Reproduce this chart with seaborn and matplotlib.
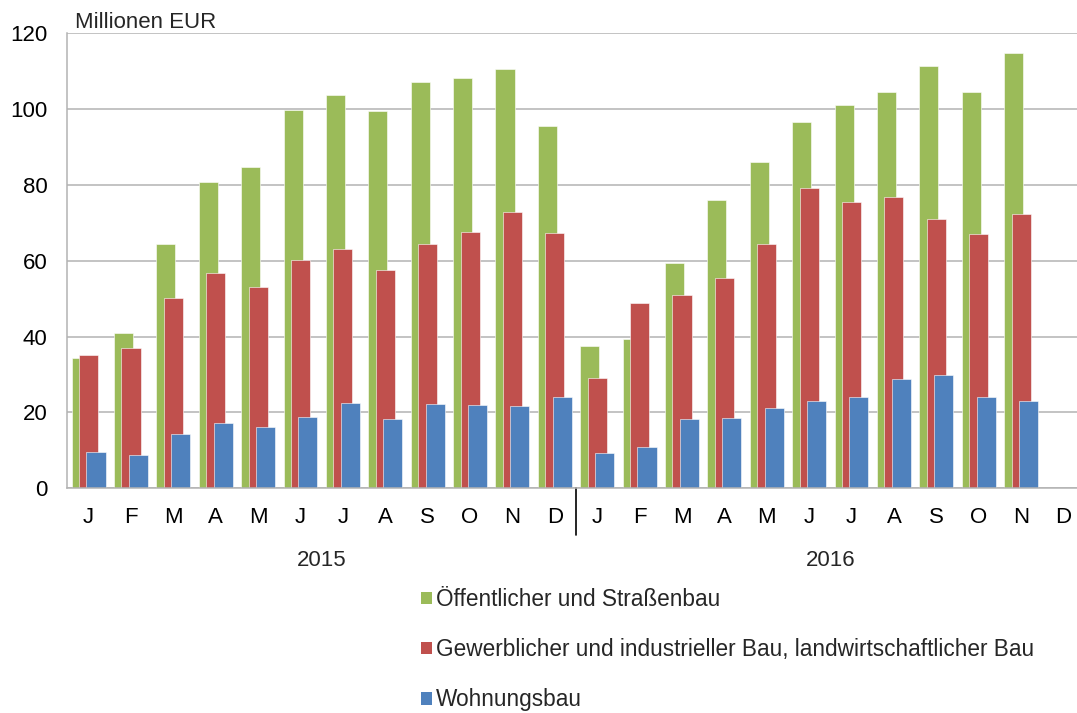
import numpy as np
import pandas as pd
import seaborn as sns
import matplotlib.pyplot as plt
from matplotlib.patches import Patch
import matplotlib.transforms as mtransforms

months = ["J", "F", "M", "A", "M", "J", "J", "A", "S", "O", "N", "D"] * 2
years = ["2015", "2016"]
series_names = ["Öffentlicher und Straßenbau",
                "Gewerblicher und industrieller Bau, landwirtschaftlicher Bau",
                "Wohnungsbau"]
oeffentlich = [34.3, 41.0, 64.4, 80.8, 84.8, 99.8, 103.8, 99.6, 107.1, 108.2, 110.7, 95.5,
               37.6, 39.4, 59.4, 76.0, 86.1, 96.5, 101.0, 104.5, 111.5, 104.6, 114.7, np.nan]
gewerblich = [35.2, 36.9, 50.2, 56.8, 53.2, 60.1, 63.1, 57.7, 64.4, 67.6, 73.0, 67.4,
              29.1, 48.9, 50.9, 55.4, 64.3, 79.3, 75.5, 76.8, 71.0, 67.1, 72.3, np.nan]
wohnung = [9.5, 8.9, 14.3, 17.2, 16.1, 18.8, 22.6, 18.3, 22.3, 22.0, 21.8, 24.1,
           9.4, 10.8, 18.4, 18.5, 21.1, 23.0, 24.2, 28.7, 29.8, 24.0, 23.0, np.nan]
colors = ["#9BBB59", "#C0504D", "#4F81BD"]

sns.set_theme(style="white")
plt.rcParams['font.family'] = ['Liberation Sans', 'DejaVu Sans']
FS = 16

W, H = 1077, 713
fig = plt.figure(figsize=(W / 100, H / 100), dpi=100)
ax_left, ax_right = 67.4, 1077
ax_bottom, ax_top = 488.3, 33.3
ax = fig.add_axes([ax_left / W, (H - ax_bottom) / H, (ax_right - ax_left) / W, (ax_bottom - ax_top) / H])

idx = np.arange(len(months))
offsets = [-0.175, 0.0, 0.175]
for vals, off, col in zip([oeffentlich, gewerblich, wohnung], offsets, colors):
    df = pd.DataFrame({"pos": idx + off, "val": vals}).dropna()
    sns.barplot(data=df, x="pos", y="val", native_scale=True, width=0.45,
                color=col, saturation=1, errorbar=None, ax=ax,
                edgecolor="#ffffff", linewidth=0.4)

ax.set_ylim(0, 120)
ax.set_yticks(np.arange(0, 121, 20))
ax.set_xlim(-0.5, 23.32)
ax.set_xticks(idx)
ax.set_xticklabels(months)
ax.set_xlabel("")
ax.set_ylabel("")
ax.tick_params(axis="both", length=0, labelsize=FS, colors="black")
ax.tick_params(axis="x", pad=13.5)
ax.tick_params(axis="y", pad=14.5)
ax.yaxis.grid(True, color="#B3B3B3", linewidth=1.1)
ax.set_axisbelow(True)
for s in ["top", "right"]:
    ax.spines[s].set_visible(False)
for s in ["left", "bottom"]:
    ax.spines[s].set_color("#B3B3B3")
    ax.spines[s].set_linewidth(1.1)

trans = mtransforms.blended_transform_factory(ax.transData, ax.transAxes)
ax.plot([11.5, 11.5], [0, -(535 - 488.3) / (ax_bottom - ax_top)], color="black",
        linewidth=1.2, transform=trans, clip_on=False)
year_y = -(560 - 488.3) / (ax_bottom - ax_top)
for i, yr in enumerate(years):
    ax.text(5.5 + 12 * i, year_y, yr, transform=trans, ha="center", va="center", fontsize=FS)

fig.text(75 / W, 1 - 28.5 / H, "Millionen EUR", ha="left", va="baseline", fontsize=FS)

handles = [Patch(facecolor=c, edgecolor="none") for c in colors]
fig.legend(handles, series_names, loc="upper left", bbox_to_anchor=(421 / W, 1 - 588 / H),
           frameon=False, fontsize=16.3, handlelength=0.47, handleheight=0.47,
           handletextpad=0.21, labelspacing=1.2, borderaxespad=0, borderpad=0)

fig.savefig("out.png", dpi=100)
